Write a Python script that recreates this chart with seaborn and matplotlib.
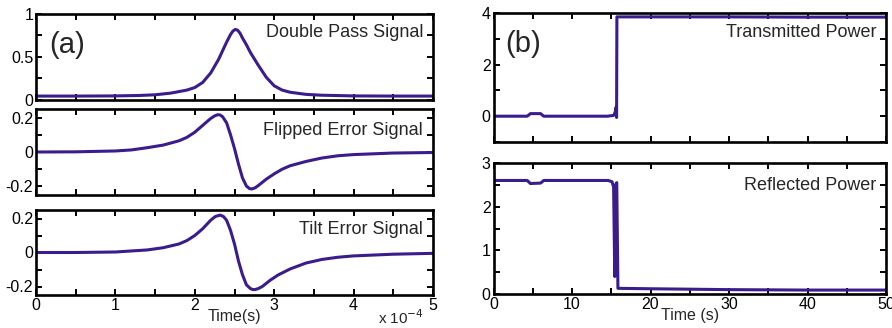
import numpy as np
import pandas as pd
import matplotlib
matplotlib.use('Agg')
import matplotlib.pyplot as plt
import seaborn as sns

# ---- data ----
# panel (a): time in units of 1e-4 s
t_dp = [0, 0.5, 1.0, 1.3, 1.5, 1.7, 1.9, 2.0, 2.1, 2.2, 2.3, 2.35, 2.4, 2.45, 2.48, 2.51,
        2.54, 2.57, 2.6, 2.65, 2.7, 2.8, 2.9, 3.0, 3.1, 3.2, 3.4, 3.6, 4.0, 4.5, 5.0]
double_pass = [0.04, 0.04, 0.042, 0.047, 0.055, 0.075, 0.11, 0.14, 0.2, 0.31, 0.47, 0.57,
               0.67, 0.76, 0.8, 0.82, 0.81, 0.775, 0.72, 0.64, 0.55, 0.4, 0.26, 0.16,
               0.11, 0.085, 0.06, 0.05, 0.042, 0.04, 0.04]

t_fl = [0, 0.5, 1.0, 1.2, 1.4, 1.6, 1.8, 1.9, 2.0, 2.1, 2.2, 2.25, 2.29, 2.32, 2.35, 2.4,
        2.45, 2.5, 2.55, 2.6, 2.65, 2.69, 2.72, 2.76, 2.8, 2.9, 3.0, 3.1, 3.2, 3.4, 3.6,
        3.8, 4.0, 4.5, 5.0]
flipped_err = [0, 0.001, 0.006, 0.012, 0.025, 0.04, 0.065, 0.085, 0.115, 0.155, 0.195,
               0.21, 0.217, 0.215, 0.205, 0.17, 0.1, 0.02, -0.07, -0.15, -0.198, -0.213,
               -0.215, -0.208, -0.195, -0.158, -0.127, -0.1, -0.08, -0.055, -0.035,
               -0.022, -0.015, -0.006, -0.003]

t_tl = [0, 0.5, 1.0, 1.4, 1.6, 1.8, 1.9, 2.0, 2.1, 2.2, 2.26, 2.32, 2.36, 2.4, 2.45, 2.5,
        2.55, 2.6, 2.65, 2.7, 2.73, 2.76, 2.8, 2.85, 2.95, 3.05, 3.2, 3.4, 3.6, 3.8, 4.0,
        4.5, 5.0]
tilt_err = [0, 0.0, 0.003, 0.015, 0.028, 0.05, 0.07, 0.1, 0.14, 0.19, 0.212, 0.22, 0.212,
            0.19, 0.13, 0.05, -0.05, -0.13, -0.19, -0.212, -0.218, -0.218, -0.212, -0.2,
            -0.163, -0.132, -0.097, -0.062, -0.041, -0.028, -0.02, -0.01, -0.005]

# panel (b): time in s
t_tr = [0, 4.3, 4.7, 6.0, 6.4, 14.5, 15.3, 15.5, 15.62, 15.68, 15.72, 20, 30, 40, 50]
transmitted = [0, 0, 0.1, 0.1, 0, 0, 0.03, 0.15, 0.35, -0.05, 3.85, 3.85, 3.85, 3.84, 3.84]

t_rf = [0, 4.3, 4.7, 6.0, 6.4, 14.6, 15.1, 15.3, 15.45, 15.55, 15.7, 15.85, 20, 30, 40, 50]
reflected = [2.6, 2.6, 2.53, 2.54, 2.6, 2.6, 2.57, 2.45, 0.4, 2.5, 2.55, 0.13, 0.12, 0.1,
             0.09, 0.09]

line_color = '#3b1c8c'

sns.set_theme(style='white')
plt.rcParams['font.family'] = ['Liberation Sans', 'DejaVu Sans']
plt.rcParams['axes.linewidth'] = 1.9
plt.rcParams['axes.edgecolor'] = 'black'
plt.rcParams['xtick.labelsize'] = 11.5
plt.rcParams['ytick.labelsize'] = 11.5
plt.rcParams['xtick.color'] = 'black'
plt.rcParams['ytick.color'] = 'black'

fig = plt.figure(figsize=(8.92, 3.28), dpi=100)

W, H = 892, 328
def box(x0, x1, y0, y1):
    return [x0 / W, 1 - y1 / H, (x1 - x0) / W, (y1 - y0) / H]

ax_dp = fig.add_axes(box(36, 433, 14, 99.5))
ax_fl = fig.add_axes(box(36, 433, 109, 195))
ax_tl = fig.add_axes(box(36, 433, 210, 295))
ax_tr = fig.add_axes(box(493.5, 886, 13, 142))
ax_rf = fig.add_axes(box(493.5, 886, 163, 294))


def draw(ax, x, y):
    df = pd.DataFrame({'t': x, 'v': y})
    sns.lineplot(data=df, x='t', y='v', ax=ax, color=line_color, linewidth=2.2,
                 sort=False, estimator=None)
    ax.set_xlabel('')
    ax.set_ylabel('')
    ax.tick_params(which='both', direction='in', top=True, right=True, bottom=True,
                   left=True, length=4, width=1.4, color='black', pad=2)


def ticks(axis, vals, labelled):
    axis.set_ticks(vals)
    axis.set_ticklabels([('%g' % v if v in labelled else '') for v in vals])


draw(ax_dp, t_dp, double_pass)
draw(ax_fl, t_fl, flipped_err)
draw(ax_tl, t_tl, tilt_err)
draw(ax_tr, t_tr, transmitted)
draw(ax_rf, t_rf, reflected)

xa = [i * 0.5 for i in range(11)]
for ax in (ax_dp, ax_fl, ax_tl):
    ax.set_xlim(0, 5)
    ticks(ax.xaxis, xa, [0, 1, 2, 3, 4, 5] if ax is ax_tl else [])
ax_dp.set_ylim(0, 1)
ticks(ax_dp.yaxis, [0, 0.25, 0.5, 0.75, 1], [0, 0.5, 1])
for ax in (ax_fl, ax_tl):
    ax.set_ylim(-0.25, 0.25)
    ticks(ax.yaxis, [-0.2, -0.1, 0, 0.1, 0.2], [-0.2, 0, 0.2])

xb = list(range(0, 51, 5))
for ax in (ax_tr, ax_rf):
    ax.set_xlim(0, 50)
    ticks(ax.xaxis, xb, [0, 10, 20, 30, 40, 50] if ax is ax_rf else [])
ax_tr.set_ylim(-1, 4)
ticks(ax_tr.yaxis, [-1, 0, 1, 2, 3, 4], [0, 2, 4])
ax_rf.set_ylim(0, 3)
ticks(ax_rf.yaxis, [0, 0.5, 1, 1.5, 2, 2.5, 3], [0, 1, 2, 3])

ax_tl.set_xlabel('Time(s)', fontsize=11.5, labelpad=-3)
ax_rf.set_xlabel('Time (s)', fontsize=11.5, labelpad=-3)
fig.text(378 / W, 1 - 318 / H, 'x 10$^{-4}$', fontsize=11, va='center', ha='left')

txt = dict(ha='right', va='center', fontsize=13)
ax_dp.text(0.975, 0.78, 'Double Pass Signal', transform=ax_dp.transAxes, **txt)
ax_fl.text(0.975, 0.75, 'Flipped Error Signal', transform=ax_fl.transAxes, **txt)
ax_tl.text(0.975, 0.765, 'Tilt Error Signal', transform=ax_tl.transAxes, **txt)
ax_tr.text(0.975, 0.845, 'Transmitted Power', transform=ax_tr.transAxes, **txt)
ax_rf.text(0.975, 0.832, 'Reflected Power', transform=ax_rf.transAxes, **txt)

ax_dp.text(0.033, 0.64, '(a)', transform=ax_dp.transAxes, ha='left', va='center', fontsize=21)
ax_tr.text(0.03, 0.76, '(b)', transform=ax_tr.transAxes, ha='left', va='center', fontsize=21)

fig.savefig('out.png', dpi=100)
